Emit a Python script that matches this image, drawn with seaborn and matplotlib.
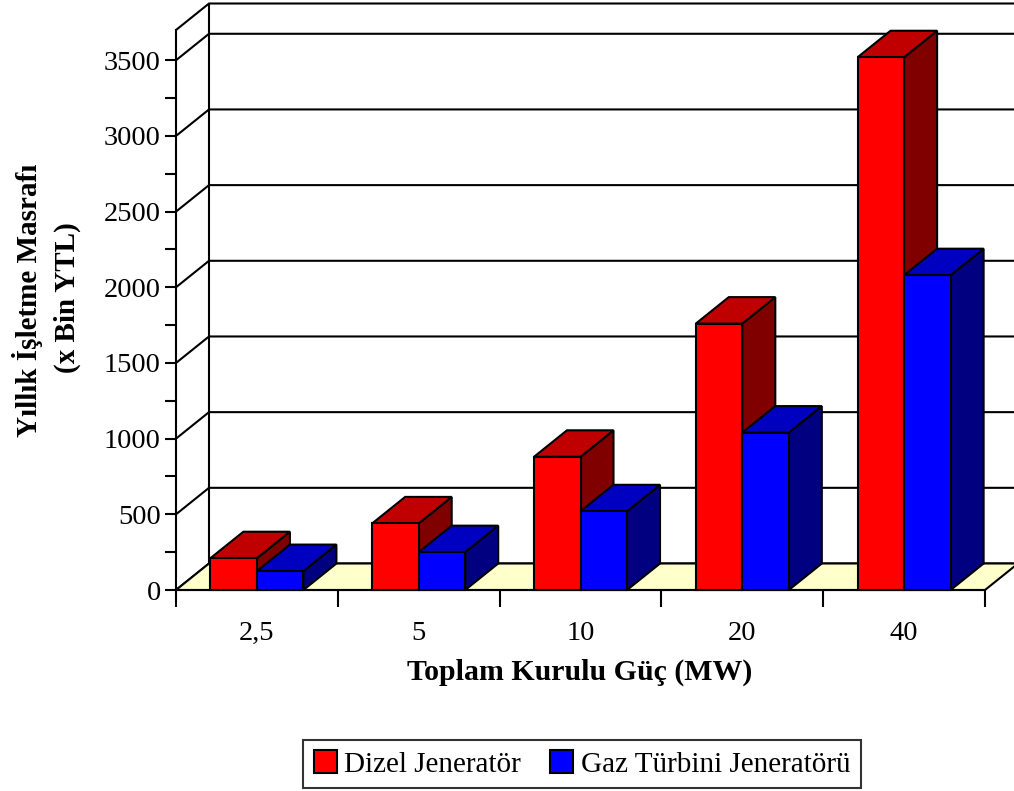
import numpy as np
import pandas as pd
import matplotlib
matplotlib.use("Agg")
import matplotlib.pyplot as plt
from matplotlib.patches import Polygon, Patch
import seaborn as sns

# Annual operating cost (thousand YTL) by total installed power
categories = ["2,5", "5", "10", "20", "40"]
series_names = ["Dizel Jeneratör", "Gaz Türbini Jeneratörü"]
diesel_cost = [210, 440, 880, 1760, 3520]
gas_turbine_cost = [125, 250, 520, 1040, 2080]

y_ticks = [0, 500, 1000, 1500, 2000, 2500, 3000, 3500]
y_max = 3700

front_colors = ["#FF0000", "#0000FF"]
top_colors = ["#C00000", "#0000C0"]
side_colors = ["#800000", "#000080"]
floor_color = "#FFFFCC"

df = pd.DataFrame({
    "Güç": categories * 2,
    "Masraf": diesel_cost + gas_turbine_cost,
    "Seri": [series_names[0]] * len(categories) + [series_names[1]] * len(categories),
})

sns.set_theme(style="white")
plt.rcParams["font.family"] = ["Liberation Serif", "DejaVu Serif"]
plt.rcParams["axes.linewidth"] = 1.5
plt.rcParams["text.color"] = "black"
plt.rcParams["axes.labelcolor"] = "black"
plt.rcParams["xtick.color"] = "black"
plt.rcParams["ytick.color"] = "black"
plt.rcParams["axes.edgecolor"] = "black"

W, H = 1014, 791
fig = plt.figure(figsize=(W / 100, H / 100), dpi=100)
ax = fig.add_axes([176 / W, 1 - 590 / H, (985 - 176) / W, (590 - 30) / H])

sns.barplot(data=df, x="Güç", y="Masraf", hue="Seri", order=categories,
            hue_order=series_names, palette=front_colors, saturation=1,
            width=0.575, edgecolor="black", linewidth=1.5, ax=ax, legend=False)

ax.set_xlim(-0.5, len(categories) - 0.5)
ax.set_ylim(0, y_max)

# oblique depth offset in data units
DX = 33 / ((985 - 176) / len(categories))
DY = 26.5 * y_max / (590 - 30)
x0, x1 = -0.5, len(categories) - 0.5

# back wall gridlines and side wall lines
for v in y_ticks + [y_max]:
    ax.plot([x0, x0 + DX, x1 + DX], [v, v + DY, v + DY], color="black",
            lw=1.5, zorder=0.5, clip_on=False, solid_capstyle="butt")
ax.plot([x0 + DX, x0 + DX], [DY, y_max + DY], color="black", lw=1.5,
        zorder=0.5, clip_on=False)

# floor
ax.add_patch(Polygon([(x0, 0), (x1, 0), (x1 + DX, DY), (x0 + DX, DY)],
                     closed=True, facecolor=floor_color, edgecolor="black",
                     lw=1.5, zorder=1, clip_on=False))

# 3D faces for every bar
n = len(categories)
for k, bar in enumerate(ax.patches[:2 * n]):
    j = k // n
    bx, bw, bh = bar.get_x(), bar.get_width(), bar.get_height()
    i = int(round(bx + bw / 2 + (0.5 - j) * bw))
    base = 3 + 10 * i + 2 * j
    bar.set_zorder(base + 1)
    bar.set_clip_on(False)
    top = Polygon([(bx, bh), (bx + bw, bh), (bx + bw + DX, bh + DY), (bx + DX, bh + DY)],
                  closed=True, facecolor=top_colors[j], edgecolor="black",
                  lw=1.5, zorder=base, clip_on=False, joinstyle="miter")
    side = Polygon([(bx + bw, 0), (bx + bw + DX, DY), (bx + bw + DX, bh + DY), (bx + bw, bh)],
                   closed=True, facecolor=side_colors[j], edgecolor="black",
                   lw=1.5, zorder=base, clip_on=False, joinstyle="miter")
    ax.add_patch(side)
    ax.add_patch(top)

# axes styling
for s in ["top", "right"]:
    ax.spines[s].set_visible(False)
ax.spines["left"].set_zorder(2)
ax.spines["bottom"].set_zorder(2)
ax.set_yticks(y_ticks)
ax.set_yticks(np.arange(250, 3500, 500), minor=True)
ax.set_yticklabels([str(v) for v in y_ticks])
ax.tick_params(axis="y", which="both", direction="out", length=8, width=1.5,
               left=True, labelsize=20.5, pad=3, color="black", labelcolor="black")
ax.set_xticks(range(n))
ax.set_xticklabels(categories)
ax.set_xticks(np.arange(-0.5, n, 1.0), minor=True)
ax.tick_params(axis="x", which="major", length=0, labelsize=20.5, pad=22,
               labelcolor="black")
ax.tick_params(axis="x", which="minor", direction="out", length=12, width=1.5,
               bottom=True, color="black")
ax.set_xlabel("")
ax.set_ylabel("")
ax.grid(False)

fig.text(580 / W, 1 - 672 / H, "Toplam Kurulu Güç (MW)", ha="center", va="center",
         fontsize=21.5, fontweight="bold", color="black")
fig.text(28 / W, 1 - 300 / H, "Yıllık İşletme Masrafı", ha="center", va="center",
         rotation=90, fontsize=21, fontweight="bold", color="black")
fig.text(67 / W, 1 - 298 / H, "(x Bin YTL)", ha="center", va="center",
         rotation=90, fontsize=21, fontweight="bold", color="black")

handles = [Patch(facecolor=c, edgecolor="black", lw=1.5) for c in front_colors]
fig.legend(handles, series_names, loc="center", bbox_to_anchor=(582 / W, 1 - 764 / H),
           ncol=2, frameon=True, fancybox=False, edgecolor="black", fontsize=21,
           handlelength=0.8, handleheight=0.8, handletextpad=0.25, columnspacing=1.0,
           borderpad=0.35, borderaxespad=0, labelcolor="black")
leg = fig.legends[0]
leg.get_frame().set_linewidth(1.5)

fig.savefig("out.png", dpi=100, facecolor="white")
